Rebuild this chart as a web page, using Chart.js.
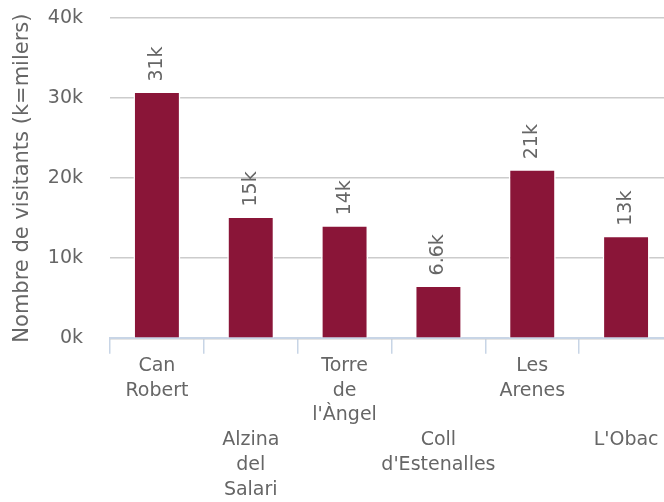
<!DOCTYPE html>
<html>
<head>
<meta charset="utf-8">
<script src="https://cdn.jsdelivr.net/npm/chart.js@4"></script>
<style>
  html, body { margin: 0; padding: 0; overflow: hidden; background: #fff; }
  #wrap { width: 680px; height: 502px; }
</style>
</head>
<body>
<div id="wrap"><canvas id="chart"></canvas></div>
<script>
const categories = [
  ['Can', 'Robert'],
  ['Alzina', 'del', 'Salari'],
  ['Torre', 'de', "l'Àngel"],
  ['Coll', "d'Estenalles"],
  ['Les', 'Arenes'],
  ["L'Obac"]
]
const visitants = [30800, 15200, 14100, 6600, 21100, 12800]
const yTicks = [0, 10000, 20000, 30000, 40000]

const TEXT = '#666666'
const FONT = 'DejaVu Sans'

// alternate labels pushed down so they don't collide
const labels = categories.map((c, i) => (i % 2 ? ['', '', ''].concat(c) : c))

const fmtK = v => (v === 0 ? '0' : String(+(v / 1000).toPrecision(2))) + 'k'

const barLabels = {
  id: 'barLabels',
  afterDatasetsDraw (chart) {
    const ctx = chart.ctx
    const meta = chart.getDatasetMeta(0)
    ctx.save()
    ctx.fillStyle = TEXT
    ctx.font = '19px "' + FONT + '"'
    ctx.textAlign = 'left'
    ctx.textBaseline = 'middle'
    meta.data.forEach((bar, i) => {
      ctx.save()
      ctx.translate(bar.x, bar.y - 10)
      ctx.rotate(-Math.PI / 2)
      ctx.fillText(fmtK(visitants[i]), 0, 0)
      ctx.restore()
    })
    ctx.restore()
  }
}

new Chart(document.getElementById('chart'), {
  type: 'bar',
  data: {
    labels,
    datasets: [{
      data: visitants,
      backgroundColor: '#8a1538',
      borderColor: '#ffffff',
      borderWidth: 1.5,
      barPercentage: 0.5,
      categoryPercentage: 1
    }]
  },
  options: {
    responsive: true,
    maintainAspectRatio: false,
    animation: false,
    layout: { padding: { top: 0, right: 7, left: 8, bottom: 0 } },
    plugins: {
      legend: { display: false },
      tooltip: { enabled: false }
    },
    scales: {
      x: {
        grid: {
          offset: true,
          drawOnChartArea: false,
          drawTicks: true,
          tickLength: 15.5,
          color: '#c8d5e6',
          lineWidth: 1.5
        },
        border: { color: '#c8d5e6', width: 2 },
        ticks: {
          autoSkip: false,
          maxRotation: 0,
          padding: 0,
          color: TEXT,
          font: { family: FONT, size: 19, lineHeight: 1.3 }
        }
      },
      y: {
        min: 0,
        max: 40000,
        afterBuildTicks: axis => { axis.ticks = yTicks.map(v => ({ value: v })) },
        afterFit: axis => { axis.width = 102 },
        grid: {
          color: '#cccccc',
          lineWidth: 1.5,
          drawTicks: true,
          tickLength: 20.5,
          tickColor: 'rgba(0,0,0,0)'
        },
        border: { display: false },
        ticks: {
          padding: 6.5,
          color: TEXT,
          font: { family: FONT, size: 19 },
          callback: v => fmtK(v)
        },
        title: {
          display: true,
          text: 'Nombre de visitants (k=milers)',
          color: TEXT,
          font: { family: FONT, size: 21 },
          padding: { top: 2, bottom: 0 }
        }
      }
    }
  },
  plugins: [barLabels]
})
</script>
</body>
</html>
